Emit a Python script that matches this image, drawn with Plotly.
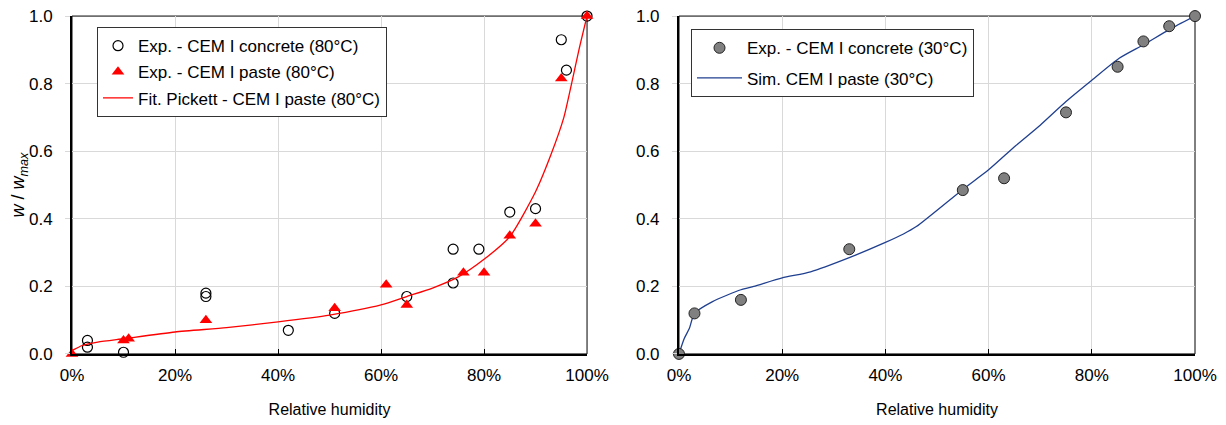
"""
Sorption isotherms: CEM I concrete vs paste at 80°C (left) and 30°C (right).
"""

import plotly.graph_objects as go

# ---- left panel (80°C) ----
conc80_rh = [0.03, 0.03, 0.10, 0.26, 0.26, 0.42, 0.51, 0.65, 0.74, 0.74, 0.79, 0.85, 0.90, 0.95, 0.96, 1.00]
conc80_w = [0.04, 0.02, 0.005, 0.18, 0.17, 0.07, 0.12, 0.17, 0.31, 0.21, 0.31, 0.42, 0.43, 0.93, 0.84, 1.00]

paste80_rh = [0.00, 0.10, 0.11, 0.26, 0.51, 0.61, 0.65, 0.76, 0.80, 0.85, 0.90, 0.95, 1.00]
paste80_w = [0.00, 0.04, 0.045, 0.10, 0.135, 0.205, 0.145, 0.24, 0.24, 0.35, 0.385, 0.815, 1.00]

fit80_rh = [0.00, 0.02, 0.05, 0.10, 0.20, 0.30, 0.40, 0.50, 0.60, 0.65, 0.70, 0.75, 0.80,
            0.85, 0.90, 0.93, 0.955, 0.97, 0.985, 1.00]
fit80_w = [0.01, 0.025, 0.035, 0.045, 0.065, 0.078, 0.095, 0.115, 0.145, 0.17, 0.195, 0.228, 0.28,
           0.347, 0.48, 0.59, 0.70, 0.80, 0.905, 1.00]

# ---- right panel (30°C) ----
conc30_rh = [0.00, 0.03, 0.12, 0.33, 0.55, 0.63, 0.75, 0.85, 0.90, 0.95, 1.00]
conc30_w = [0.00, 0.12, 0.16, 0.31, 0.485, 0.52, 0.715, 0.85, 0.925, 0.97, 1.00]

sim30_rh = [0.00, 0.01, 0.02, 0.03, 0.065, 0.12, 0.145, 0.20, 0.255, 0.33, 0.40, 0.435, 0.46,
            0.55, 0.60, 0.653, 0.70, 0.75, 0.80, 0.853, 0.90, 0.95, 1.00]
sim30_w = [0.00, 0.045, 0.075, 0.12, 0.155, 0.19, 0.20, 0.225, 0.243, 0.285, 0.33, 0.355, 0.377,
           0.487, 0.545, 0.617, 0.677, 0.747, 0.81, 0.875, 0.915, 0.96, 1.00]

x_ticks = [0, 0.2, 0.4, 0.6, 0.8, 1.0]
x_ticklabels = ["0%", "20%", "40%", "60%", "80%", "100%"]
y_ticks = [0, 0.2, 0.4, 0.6, 0.8, 1.0]

FONT = "Liberation Sans, Arial, sans-serif"
GRID = "#D9D9D9"

fig = go.Figure()

fig.add_trace(go.Scatter(
    x=conc80_rh, y=conc80_w, mode="markers", name="Exp. - CEM I concrete (80°C)",
    marker=dict(symbol="circle-open", size=10, color="black", line=dict(width=1.2)),
    legendgroup="a", xaxis="x", yaxis="y", cliponaxis=False,
))
fig.add_trace(go.Scatter(
    x=paste80_rh, y=paste80_w, mode="markers", name="Exp. - CEM I paste (80°C)",
    marker=dict(symbol="triangle-up", size=11, color="#FF0000"),
    legendgroup="b", xaxis="x", yaxis="y", cliponaxis=False,
))
fig.add_trace(go.Scatter(
    x=fit80_rh, y=fit80_w, mode="lines", name="Fit. Pickett - CEM I paste (80°C)",
    line=dict(color="#FF0000", width=1.3, shape="spline", smoothing=0.6),
    legendgroup="c", xaxis="x", yaxis="y",
))

fig.add_trace(go.Scatter(
    x=sim30_rh, y=sim30_w, mode="lines", name="Sim. CEM I paste (30°C)",
    line=dict(color="#1F3F8F", width=1.3, shape="spline", smoothing=0.6),
    legendgroup="e", legend="legend2", legendrank=2, xaxis="x2", yaxis="y2",
))
fig.add_trace(go.Scatter(
    x=conc30_rh, y=conc30_w, mode="markers", name="Exp. - CEM I concrete (30°C)",
    marker=dict(symbol="circle", size=11, color="#808080", line=dict(color="#222222", width=1)),
    legendgroup="d", legend="legend2", legendrank=1, xaxis="x2", yaxis="y2", cliponaxis=False,
))

xaxis_common = dict(
    range=[0, 1], tickvals=x_ticks, ticktext=x_ticklabels,
    showgrid=True, gridcolor=GRID, gridwidth=1,
    showline=True, linecolor="black", linewidth=2,
    ticks="inside", ticklen=5, tickcolor="black", ticklabelstandoff=5,
    tickfont=dict(size=17), ticklabeloverflow="allow",
    zeroline=False, automargin=False,
    title=dict(text="Relative humidity", font=dict(size=16), standoff=19),
)
yaxis_common = dict(
    range=[0, 1], tickvals=y_ticks, tickformat=".1f",
    showgrid=True, gridcolor=GRID, gridwidth=1,
    showline=True, linecolor="black", linewidth=2,
    ticks="outside", ticklen=5, tickcolor=GRID, ticklabelstandoff=9,
    tickfont=dict(size=17), ticklabeloverflow="allow",
    zeroline=False, automargin=False,
)

legend_common = dict(
    bgcolor="white", bordercolor="#333333", borderwidth=1,
    font=dict(size=17, family=FONT, color="black"),
    xanchor="left", yanchor="top",
    traceorder="grouped",
)

fig.update_layout(
    width=1226, height=425,
    margin=dict(l=0, r=0, t=0, b=0),
    paper_bgcolor="white", plot_bgcolor="white",
    font=dict(family=FONT, size=16, color="black"),
    xaxis=dict(domain=[0.0522, 0.4723], anchor="y", **xaxis_common),
    yaxis=dict(domain=[0.186, 0.981], anchor="x",
               title=dict(text="<i>w</i> / <i>w<sub>max</sub></i>", font=dict(size=18), standoff=18),
               **yaxis_common),
    xaxis2=dict(domain=[0.5473, 0.9682], anchor="y2", **xaxis_common),
    yaxis2=dict(domain=[0.186, 0.981], anchor="x2", **yaxis_common),
    legend=dict(x=0.0726, y=0.955, tracegroupgap=1, itemwidth=30, **legend_common),
    legend2=dict(x=0.5571, y=0.950, tracegroupgap=5, itemwidth=45, **legend_common),
    showlegend=True,
)

# thin frame on top/right sides of each plot area
for xr, yr in [("x", "y"), ("x2", "y2")]:
    fig.add_shape(type="rect", xref=f"{xr} domain", yref=f"{yr} domain",
                  x0=0, x1=1, y0=0, y1=1, line=dict(color="black", width=1), layer="below")

fig.write_html("out.html")
